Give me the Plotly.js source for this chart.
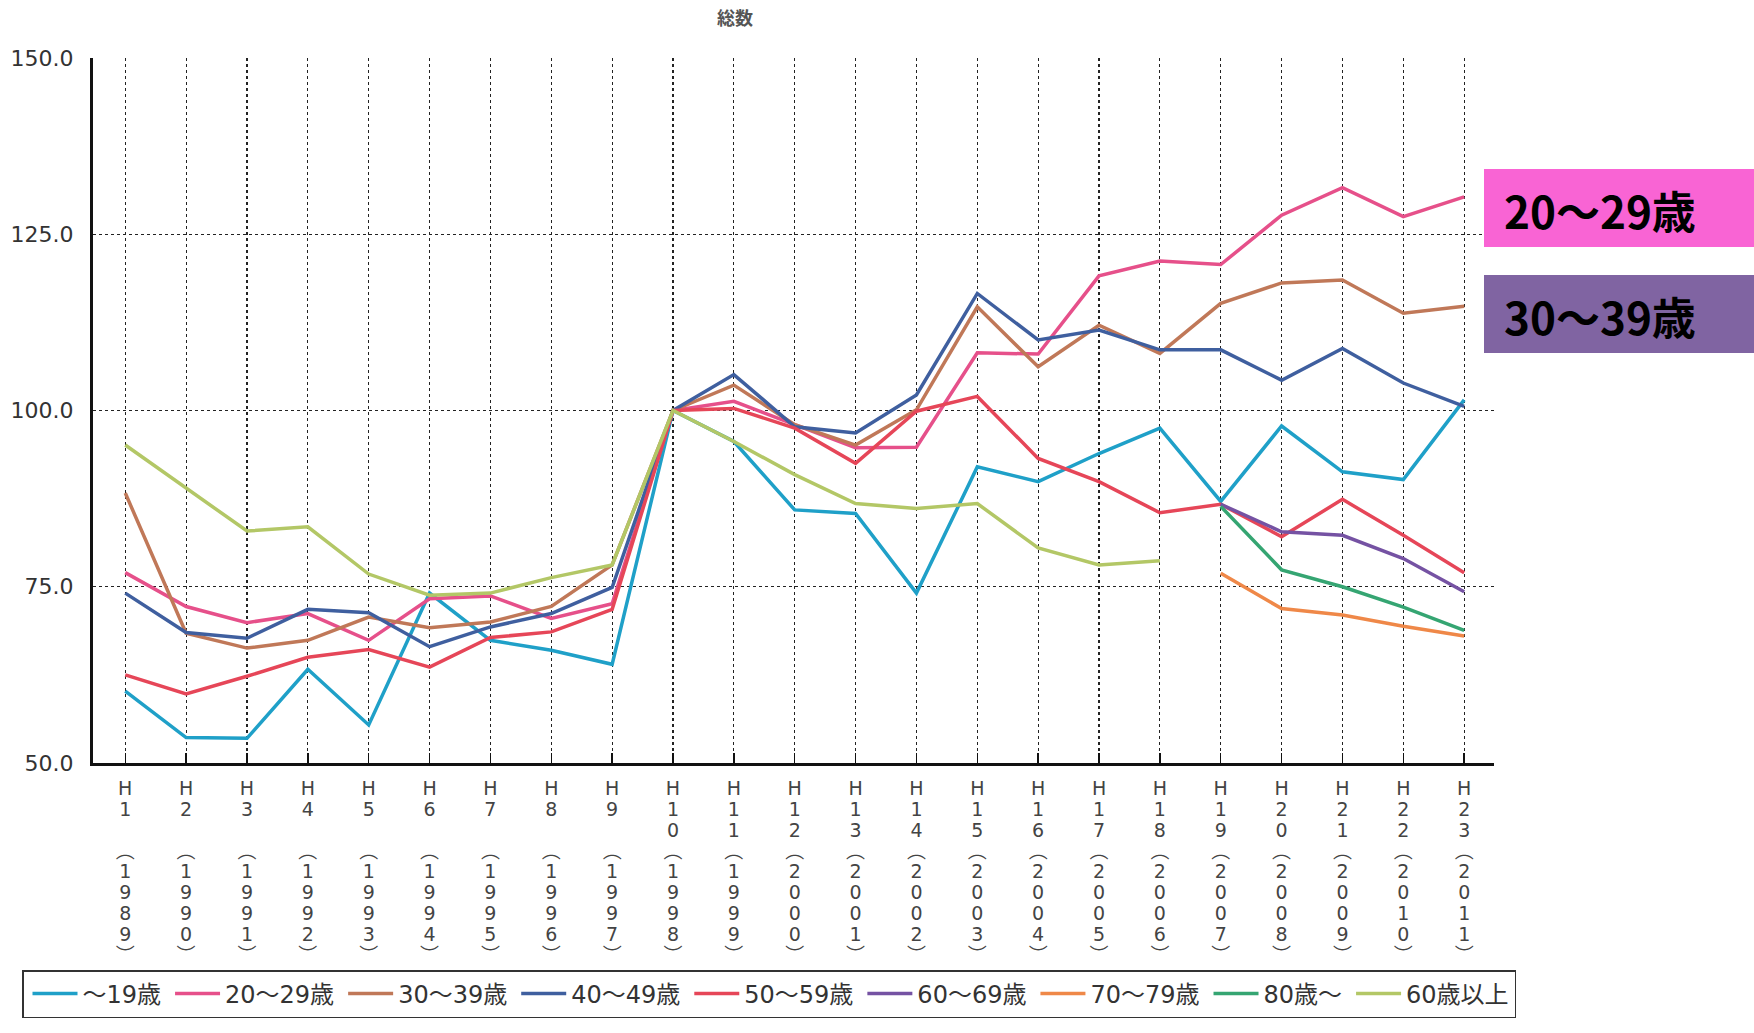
<!DOCTYPE html>
<html>
<head>
<meta charset="utf-8">
<script src="https://cdn.plot.ly/plotly-3.0.1.min.js"></script>
<style>
html,body{margin:0;padding:0;background:#fff;}
#chart{width:1754px;height:1033px;}
</style>
</head>
<body>
<div id="chart"></div>
<script>
// ---- data ----
const eraYears = ['1','2','3','4','5','6','7','8','9','10','11','12','13','14','15','16','17','18','19','20','21','22','23'];
const westernYears = ['1989','1990','1991','1992','1993','1994','1995','1996','1997','1998','1999','2000','2001','2002','2003','2004','2005','2006','2007','2008','2009','2010','2011'];
const categories = eraYears.map(function(e){ return 'H' + e; });

const seriesNames = ['～19歳','20～29歳','30～39歳','40～49歳','50～59歳','60～69歳','70～79歳','80歳～','60歳以上'];

const under19   = [60.2, 53.6, 53.5, 63.3, 55.4, 74.1, 67.4, 66.0, 64.0, 100, 95.6, 85.9, 85.4, 74.1, 92.0, 89.9, 93.9, 97.5, 87.1, 97.8, 91.3, 90.2, 101.5];
const age20s    = [77.0, 72.2, 69.9, 71.2, 67.4, 73.3, 73.7, 70.5, 72.6, 100, 101.3, 98.0, 94.7, 94.8, 108.2, 108.0, 119.1, 121.2, 120.7, 127.7, 131.6, 127.5, 130.3];
const age30s    = [88.3, 68.4, 66.3, 67.4, 70.7, 69.2, 70.0, 72.2, 78.1, 100, 103.6, 98.0, 95.1, 100.1, 114.7, 106.2, 112.1, 108.1, 115.2, 118.1, 118.5, 113.8, 114.8];
const age40s    = [74.1, 68.5, 67.7, 71.8, 71.3, 66.5, 69.3, 71.2, 74.9, 100, 105.1, 97.7, 96.8, 102.2, 116.6, 110.0, 111.4, 108.6, 108.6, 104.3, 108.8, 103.9, 100.6];
const age50s    = [62.5, 59.8, 62.3, 65.0, 66.1, 63.6, 67.8, 68.6, 71.8, 100, 100.3, 97.5, 92.5, 99.9, 102.0, 93.2, 89.9, 85.5, 86.7, 82.1, 87.4, 82.3, 77.0];
const age60s    = [null, null, null, null, null, null, null, null, null, null, null, null, null, null, null, null, null, null, 86.7, 82.8, 82.3, 79.0, 74.3];
const age70s    = [null, null, null, null, null, null, null, null, null, null, null, null, null, null, null, null, null, null, 76.9, 71.9, 71.0, 69.4, 68.0];
const age80plus = [null, null, null, null, null, null, null, null, null, null, null, null, null, null, null, null, null, null, 86.4, 77.4, 75.0, 72.1, 68.8];
const over60    = [95.1, 89.0, 82.9, 83.5, 76.8, 73.8, 74.1, 76.3, 78.1, 100, 95.6, 90.9, 86.8, 86.1, 86.8, 80.5, 78.1, 78.7, null, null, null, null, null];

const seriesValues = [under19, age20s, age30s, age40s, age50s, age60s, age70s, age80plus, over60];
const seriesColors = ['#1fa0c8','#e6508a','#c07858','#3f5f9f','#e64658','#7552a3','#ef8848','#35a572','#b3c766'];

const yTicks = [50, 75, 100, 125, 150];
const chartTitle = '総数';
const calloutLabels = ['20〜29歳', '30〜39歳'];
const calloutColors = ['#f964d4', '#8064a2'];

// ---- vertical tick labels ----
function verticalLabel(era, west){
  var lines = ['H'];
  var d = era.split('');
  if (d.length === 1) { lines.push(d[0]); lines.push('\u00a0'); }
  else { lines.push(d[0]); lines.push(d[1]); }
  lines.push('︵');
  west.split('').forEach(function(c){ lines.push(c); });
  lines.push('︶');
  return lines.map(function(s){ return '<span style="font-size:19px">' + s + '</span>'; }).join('<br>');
}
const tickText = eraYears.map(function(e, i){ return verticalLabel(e, westernYears[i]); });

const FONT = '"DejaVu Sans", "Noto Sans CJK JP", sans-serif';

const traces = seriesNames.map(function(name, i){
  return {
    type: 'scatter', mode: 'lines',
    name: name,
    x: categories, y: seriesValues[i],
    line: {color: seriesColors[i], width: 3.5},
    connectgaps: false,
    hoverinfo: 'skip'
  };
});

// plot area geometry (paper coords)
const L = 93, R = 260, T = 58, B = 270, W = 1754, H = 1033;
const pw = W - L - R, ph = H - T - B;
function px2x(px){ return (px - L) / pw; }
function py2y(py){ return (H - B - py) / ph; }

const shapes = [
  {type:'rect', xref:'paper', yref:'paper', x0:px2x(1484), x1:px2x(1760), y0:py2y(247), y1:py2y(169), fillcolor:calloutColors[0], line:{width:0}, layer:'above'},
  {type:'rect', xref:'paper', yref:'paper', x0:px2x(1484), x1:px2x(1760), y0:py2y(353), y1:py2y(275), fillcolor:calloutColors[1], line:{width:0}, layer:'above'}
];
const annotations = [
  {xref:'paper', yref:'paper', x:px2x(1502), y:py2y(210), xanchor:'left', yanchor:'middle', text:'<b>'+calloutLabels[0]+'</b>', showarrow:false, font:{family:'"Noto Sans CJK JP", sans-serif', size:44, color:'#000'}},
  {xref:'paper', yref:'paper', x:px2x(1502), y:py2y(316), xanchor:'left', yanchor:'middle', text:'<b>'+calloutLabels[1]+'</b>', showarrow:false, font:{family:'"Noto Sans CJK JP", sans-serif', size:44, color:'#000'}}
];

const layout = {
  width: W, height: H,
  margin: {l: L, r: R, t: T, b: B, pad: 0},
  paper_bgcolor: '#fff', plot_bgcolor: '#fff',
  title: {text: chartTitle, x: 735 / W, xref: 'container', xanchor: 'center', y: 1 - 19 / H, yanchor: 'middle',
          font: {family: '"Noto Sans CJK JP", sans-serif', size: 18, color: '#555', weight: 700}},
  showlegend: true,
  legend: {
    orientation: 'h', xref: 'paper', yref: 'paper',
    x: px2x(1516), y: py2y(970), xanchor: 'right', yanchor: 'top',
    bordercolor: '#333', borderwidth: 1.5, bgcolor: '#fff',
    font: {family: FONT, size: 24, color: '#333'},
    itemwidth: 45, indentation: 4, tracegroupgap: 0, traceorder: 'normal'
  },
  xaxis: {
    type: 'category', range: [-0.53, 22.49],
    tickmode: 'array', tickvals: categories, ticktext: tickText,
    showline: true, linewidth: 3, linecolor: '#111',
    ticks: 'inside', ticklen: 10, tickwidth: 1.5, tickcolor: '#111',
    showgrid: true, gridcolor: '#222', gridwidth: 1.2, griddash: 'dot',
    tickfont: {family: FONT, size: 16, color: '#444'},
    ticklabelstandoff: 10,
    automargin: false,
    fixedrange: true
  },
  yaxis: {
    range: [50, 150], tickmode: 'array', tickvals: yTicks, tickformat: '.1f',
    showline: true, linewidth: 3, linecolor: '#111',
    ticks: '', showgrid: true, gridcolor: '#222', gridwidth: 1.2, griddash: 'dot',
    zeroline: false,
    tickfont: {family: FONT, size: 22, color: '#333'},
    ticklabelstandoff: 12,
    automargin: false,
    fixedrange: true
  },
  shapes: shapes,
  annotations: annotations
};

Plotly.newPlot('chart', traces, layout, {displayModeBar: false, staticPlot: true});
</script>
</body>
</html>
